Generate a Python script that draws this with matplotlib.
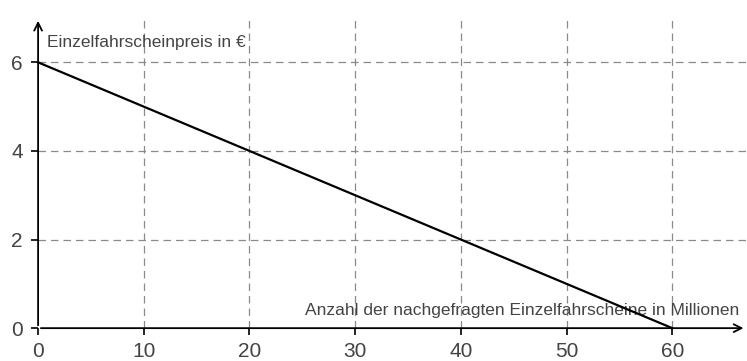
import numpy as np
import matplotlib.pyplot as plt
from matplotlib import font_manager

# Nachfragefunktion: Preis in Abhaengigkeit der Menge
menge = [0, 60]          # Millionen Einzelfahrscheine
preis = [6, 0]           # Euro
x_ticks = [0, 10, 20, 30, 40, 50, 60]
y_ticks = [0, 2, 4, 6]

names = {f.name for f in font_manager.fontManager.ttflist}
narrow = 'Liberation Sans Narrow' if 'Liberation Sans Narrow' in names else 'Liberation Sans'
plt.rcParams['font.family'] = ['Liberation Sans', 'DejaVu Sans']

fig = plt.figure(figsize=(7.47, 3.61), dpi=100)
ax = fig.add_axes([0.051, 0.091, 0.948, 0.859])
ax.set_xlim(0, 67)
ax.set_ylim(0, 7)

for s in ax.spines.values():
    s.set_visible(False)

# Gitter gestrichelt
for xv in x_ticks[1:]:
    ax.axvline(xv, color='#8a8a8a', lw=0.9, ls=(0, (6, 4)), zorder=1)
for yv in y_ticks[1:]:
    ax.axhline(yv, color='#8a8a8a', lw=0.9, ls=(0, (6, 4)), zorder=1)

# Achsen mit Pfeilen
ax.annotate('', xy=(67, 0), xytext=(0, 0),
            arrowprops=dict(arrowstyle='->', lw=1.3, color='black', mutation_scale=14),
            annotation_clip=False, zorder=3)
ax.annotate('', xy=(0, 7), xytext=(0, 0),
            arrowprops=dict(arrowstyle='->', lw=1.3, color='black', mutation_scale=14),
            annotation_clip=False, zorder=3)

ax.plot(menge, preis, color='black', lw=1.6, zorder=4, clip_on=False)

ax.set_xticks(x_ticks)
ax.set_yticks(y_ticks)
ax.tick_params(direction='out', length=5, width=1.2, color='black',
               labelsize=15, labelcolor='#444444')
ax.tick_params(axis='x', pad=5)
ax.tick_params(axis='y', pad=6)

ax.text(0.8, 6.45, 'Einzelfahrscheinpreis in €', family=[narrow, 'DejaVu Sans'],
        fontsize=12.5, color='#444444', va='center', ha='left')
ax.text(66.3, 0.4, 'Anzahl der nachgefragten Einzelfahrscheine in Millionen',
        family=[narrow, 'DejaVu Sans'], fontsize=12.5, color='#444444',
        va='center', ha='right')

fig.savefig('out.png', dpi=100)
